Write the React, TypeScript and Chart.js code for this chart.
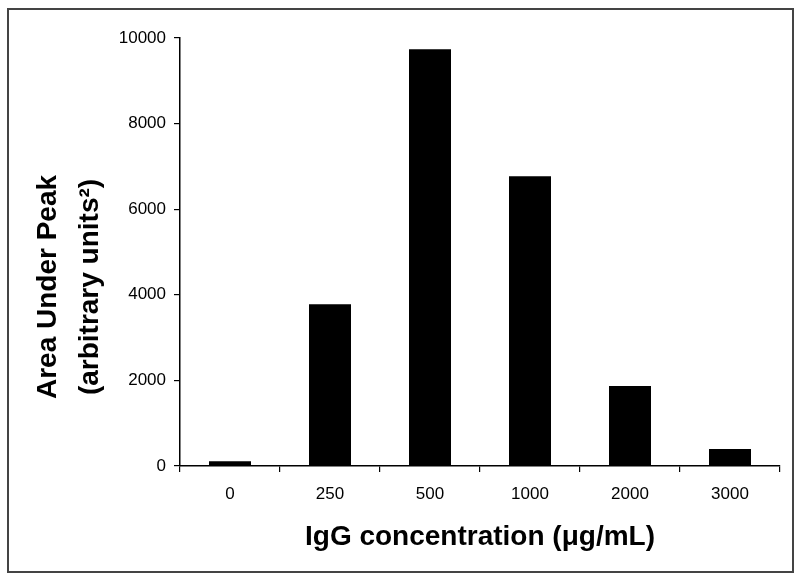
import React, { useEffect, useRef } from "react";
import { Chart, registerables } from "chart.js";

Chart.register(...registerables);

const categories = ["0", "250", "500", "1000", "2000", "3000"];
const areaValues = [110, 3780, 9740, 6770, 1870, 400];
const yTicks = [0, 2000, 4000, 6000, 8000, 10000];
const xTitle = "IgG concentration (\u03BCg/mL)";
const yTitleLines = ["Area Under Peak", "(arbitrary units\u00B2)"];

const framePlugin = {
  id: "frameAndTitles",
  beforeDraw(chart: any) {
    const ctx = chart.ctx;
    ctx.save();
    ctx.fillStyle = "#ffffff";
    ctx.fillRect(0, 0, chart.width, chart.height);
    ctx.strokeStyle = "#444444";
    ctx.lineWidth = 2;
    ctx.strokeRect(8, 9, 785, 563);
    ctx.restore();
  },
  afterDraw(chart: any) {
    const ctx = chart.ctx;
    ctx.save();
    ctx.fillStyle = "#000000";
    ctx.font = "bold 28px Arial, 'Liberation Sans', sans-serif";
    ctx.textAlign = "center";
    ctx.textBaseline = "middle";
    ctx.fillText(xTitle, 480, 537);
    const cy = 287;
    const xs = [48, 90];
    yTitleLines.forEach((line, i) => {
      ctx.save();
      ctx.translate(xs[i], cy);
      ctx.rotate(-Math.PI / 2);
      ctx.fillText(line, 0, 0);
      ctx.restore();
    });
    ctx.restore();
  },
};

export default function App() {
  const ref = useRef<HTMLCanvasElement | null>(null);
  useEffect(() => {
    if (!ref.current) return;
    const chart = new Chart(ref.current, {
      type: "bar",
      data: {
        labels: categories,
        datasets: [
          {
            data: areaValues,
            backgroundColor: "#000000",
            borderWidth: 0,
            barPercentage: 0.42,
            categoryPercentage: 1,
          },
        ],
      },
      options: {
        animation: false,
        responsive: false,
        maintainAspectRatio: false,
        layout: { padding: { top: 38, right: 20, left: 0, bottom: 0 } },
        plugins: {
          legend: { display: false },
          tooltip: { enabled: false },
          title: { display: false },
        },
        scales: {
          x: {
            offset: true,
            grid: {
              display: true,
              offset: true,
              drawOnChartArea: false,
              drawTicks: true,
              tickLength: 6,
              color: "#000000",
              lineWidth: 1.2,
            },
            border: { display: true, color: "#000000", width: 1.5 },
            ticks: {
              color: "#000000",
              padding: 12,
              font: { family: "Arial, 'Liberation Sans', sans-serif", size: 17 },
            },
            afterFit(scale: any) {
              scale.height = 582 - 466;
            },
          },
          y: {
            min: 0,
            max: 10000,
            afterBuildTicks(scale: any) {
              scale.ticks = yTicks.map((v) => ({ value: v }));
            },
            grid: {
              display: true,
              drawOnChartArea: false,
              drawTicks: true,
              tickLength: 6,
              color: "#000000",
              lineWidth: 1.2,
            },
            border: { display: true, color: "#000000", width: 1.5 },
            ticks: {
              color: "#000000",
              padding: 8,
              font: { family: "Arial, 'Liberation Sans', sans-serif", size: 17 },
              callback: (v: any) => String(v),
            },
            afterFit(scale: any) {
              scale.width = 180;
            },
          },
        },
      },
      plugins: [framePlugin],
    });
    return () => chart.destroy();
  }, []);
  return (
    <div style={{ position: "fixed", left: 0, top: 0, width: 800, height: 582, background: "#fff" }}>
      <canvas ref={ref} width={800} height={582} style={{ display: "block" }} />
    </div>
  );
}
